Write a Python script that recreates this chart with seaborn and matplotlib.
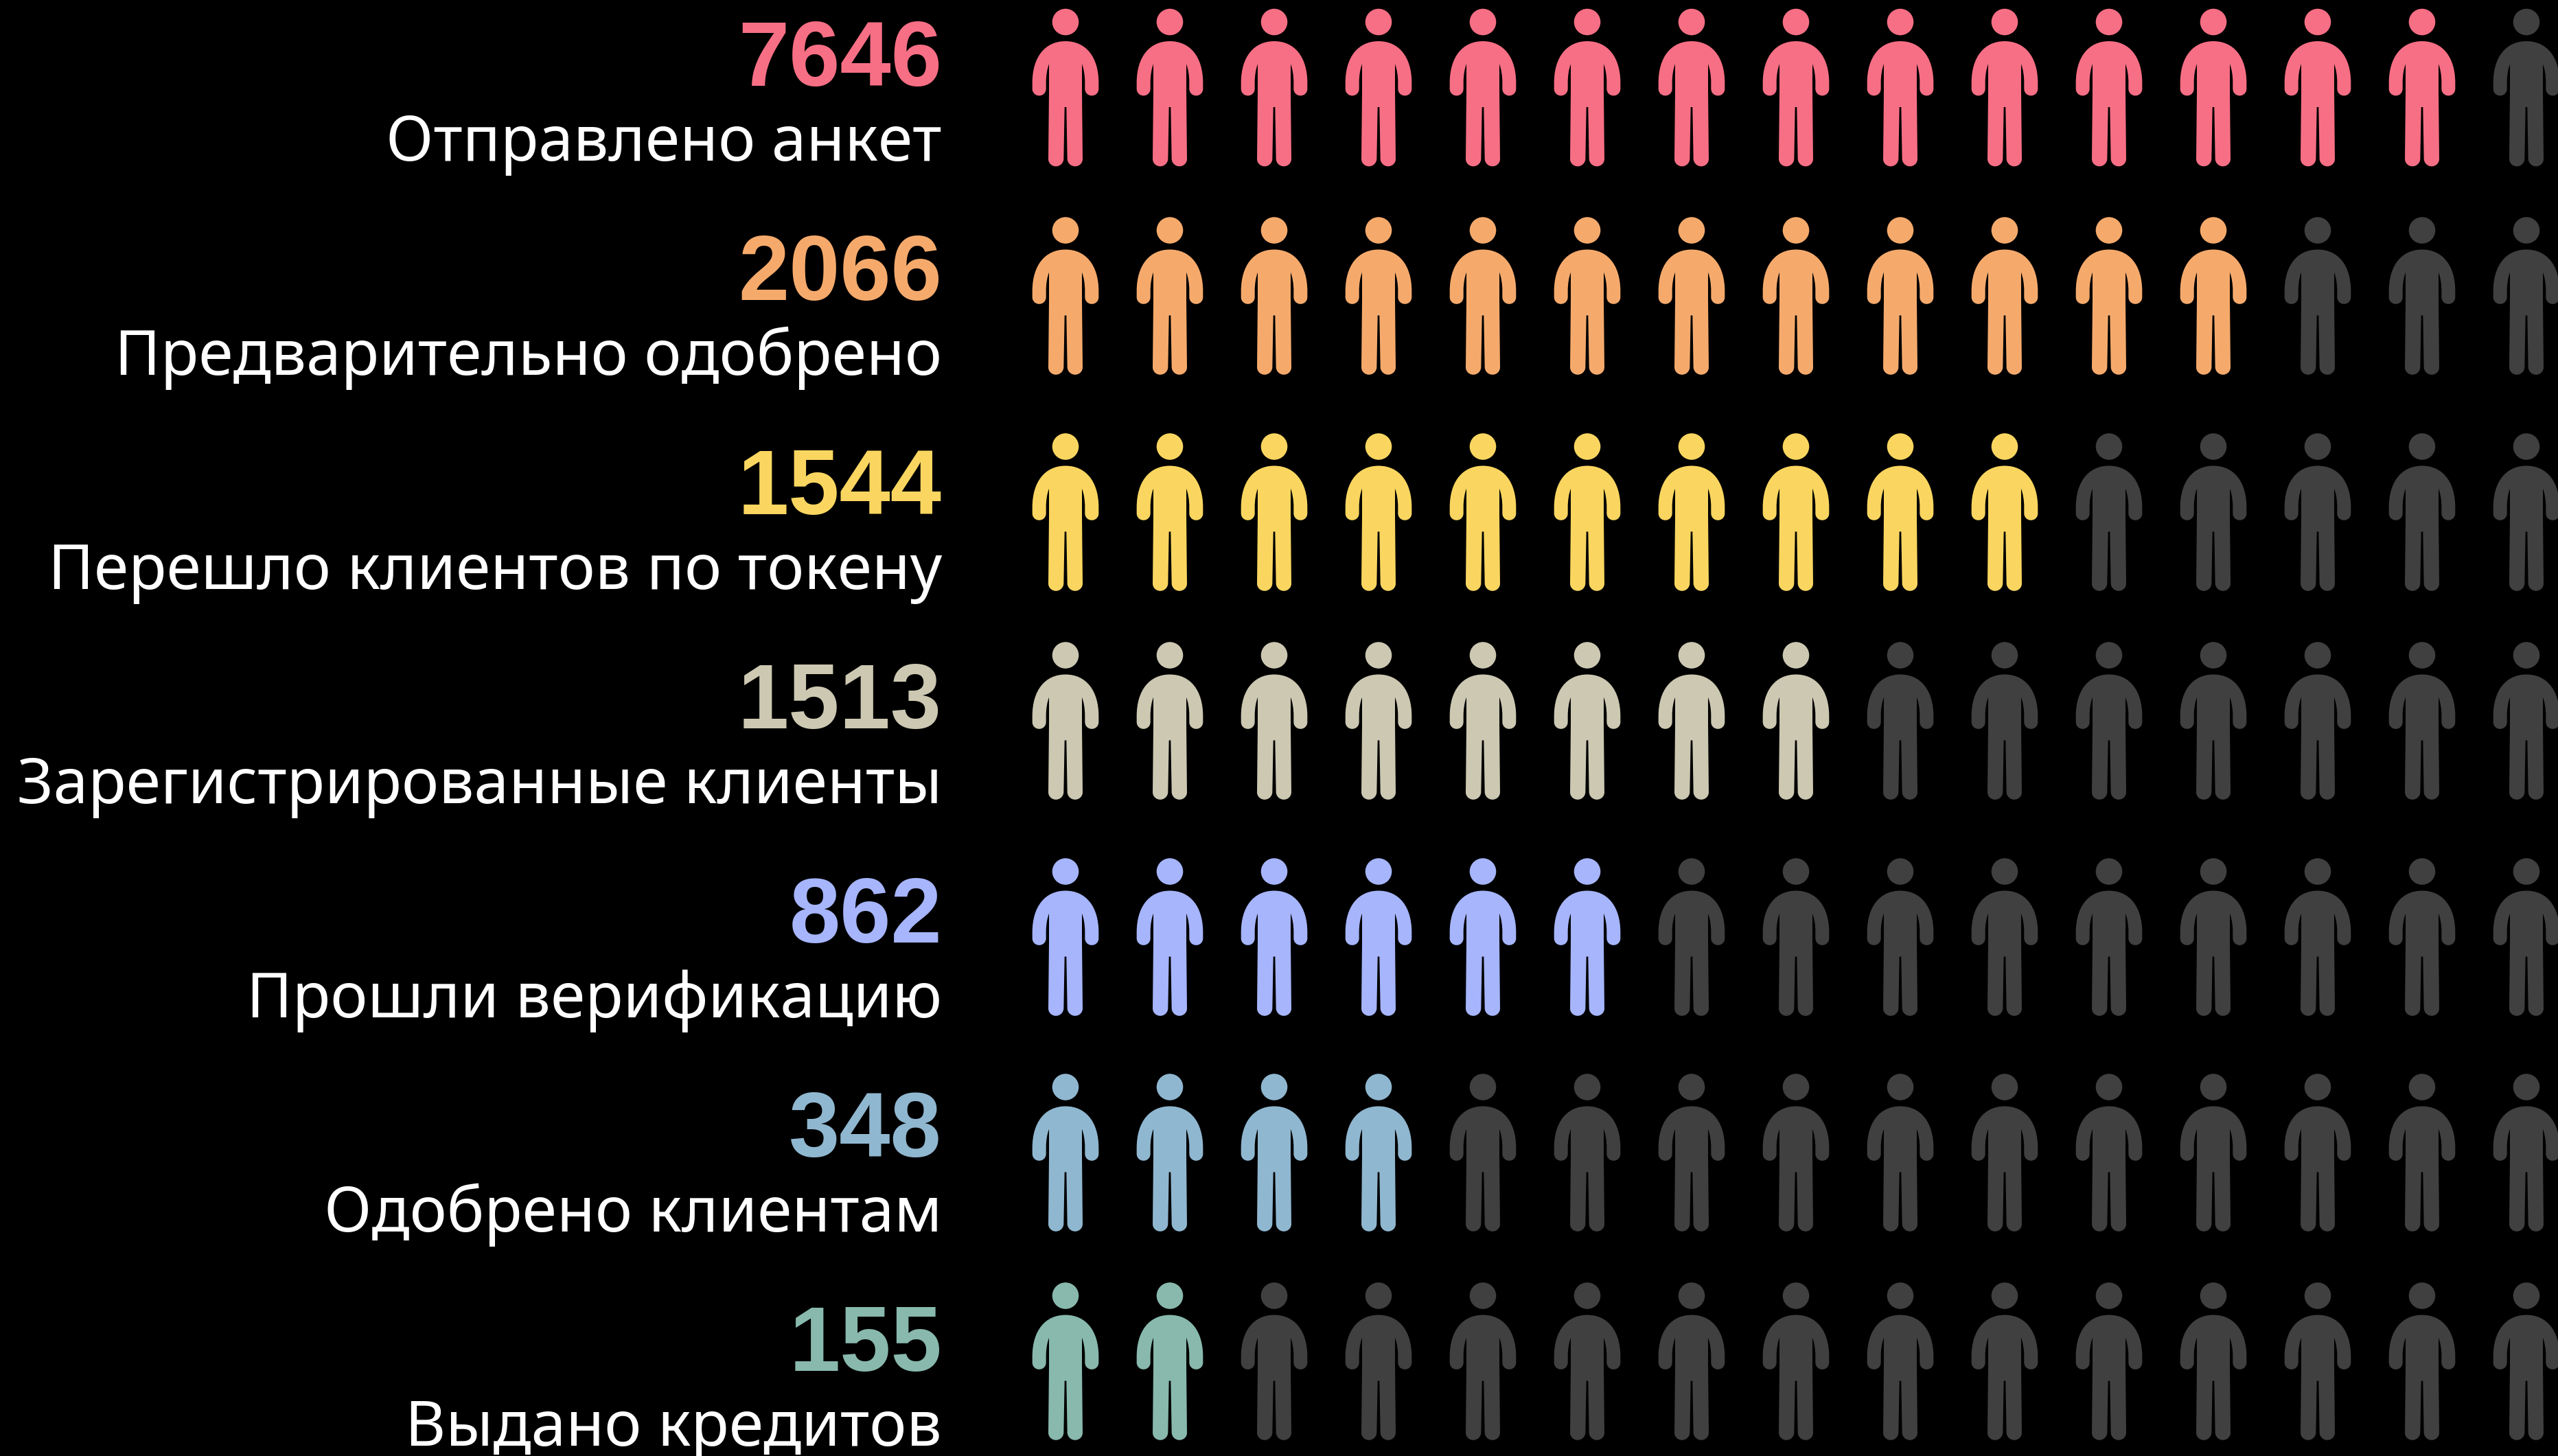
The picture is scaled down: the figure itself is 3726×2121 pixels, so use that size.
import numpy as np
import pandas as pd
import matplotlib
matplotlib.use("Agg")
import matplotlib.pyplot as plt
from matplotlib.path import Path
import seaborn as sns

# ---- data ----
stages = ["Отправлено анкет", "Предварительно одобрено", "Перешло клиентов по токену",
          "Зарегистрированные клиенты", "Прошли верификацию", "Одобрено клиентам", "Выдано кредитов"]
values = [7646, 2066, 1544, 1513, 862, 348, 155]
icons_on = [14, 12, 10, 8, 6, 4, 2]
colors = ["#F76F85", "#F5AA6C", "#FAD660", "#CCC8B2", "#A6B5FC", "#90B7D0", "#88B9AC"]

# ---- layout (pixels of the 3726x2121 canvas) ----
W, H = 3726, 2121
DPI = 100
N_COLS = 15
COL0_X, COL_STEP = 1552, 152
ROW0_Y, ROW_STEP = 127.5, 312
ICON_H = 229.6
ROW_SHIFT_PX = [0, -8.5, -5.5, -13.5, -10.5, -8.5, -16.5]
TEXT_RIGHT_PX = 1372
NUM_BASE_PX = 125
LAB_BASE_PX = 234
FONT_LABEL = "Noto Sans"
FONT_NUM = "Liberation Sans"
SIZE_LABEL = 65.6
SIZE_NUM = 96


def person_marker():
    half = [((0, 180),),
            ((-90, 180), (-145, 250), (-145, 362)),
            ((-145, 388),),
            ((-145, 405), (-132, 418), (-115, 418)),
            ((-98, 418), (-85, 405), (-85, 388)),
            ((-85, 360),),
            ((-85, 330), (-80, 300), (-72, 280)),
            ((-72, 400),),
            ((-75, 695),),
            ((-75, 713), (-60, 727), (-42, 727)),
            ((-24, 727), (-9, 713), (-8, 695)),
            ((-4, 468),),
            ((0, 468),)]
    verts, codes = [half[0][0]], [Path.MOVETO]
    for seg in half[1:]:
        verts += list(seg)
        codes += [Path.LINETO] if len(seg) == 1 else [Path.CURVE4] * 3
    for i in range(len(half) - 1, 0, -1):
        seg = half[i]
        prev_end = half[i - 1][-1]
        pts = list(seg[:-1][::-1]) + [prev_end]
        verts += [(-x, y) for x, y in pts]
        codes += [Path.LINETO] if len(seg) == 1 else [Path.CURVE4] * 3
    verts.append(verts[0])
    codes.append(Path.CLOSEPOLY)
    v = np.array(verts, float)
    v = np.column_stack([v[:, 0] / 3, -(v[:, 1] - 382.5) / 3])
    body = Path(v, codes)
    head = Path.circle((0, 95.5), 19.3)
    return Path.make_compound_path(head, body)


rows = []
for r, (stage, n) in enumerate(zip(stages, icons_on)):
    for c in range(N_COLS):
        rows.append({"col": c, "row": r + ROW_SHIFT_PX[r] / ROW_STEP,
                     "group": stage if c < n else "rest"})
df = pd.DataFrame(rows)
palette = dict(zip(stages, colors))
palette["rest"] = "#404040"

sns.set_theme(style="dark", rc={"figure.facecolor": "black", "axes.facecolor": "black"})
fig = plt.figure(figsize=(W / DPI, H / DPI), dpi=DPI, facecolor="black")
ax = fig.add_axes([0, 0, 1, 1])

s = (ICON_H * 72 / DPI) ** 2
sns.scatterplot(data=df, x="col", y="row", hue="group", palette=palette,
                marker=person_marker(), s=s, linewidth=0, edgecolor="none",
                legend=False, ax=ax, clip_on=True)

ax.set_xlim((0 - COL0_X) / COL_STEP, (W - COL0_X) / COL_STEP)
ax.set_ylim((H - ROW0_Y) / ROW_STEP, (0 - ROW0_Y) / ROW_STEP)
ax.set_axis_off()

tx = (TEXT_RIGHT_PX - COL0_X) / COL_STEP
for r, (stage, val, col) in enumerate(zip(stages, values, colors)):
    ax.text(tx, r + (NUM_BASE_PX - ROW0_Y) / ROW_STEP, str(val), color=col, ha="right",
            va="baseline", fontsize=SIZE_NUM, fontweight="bold", family=FONT_NUM)
    ax.text(tx, r + (LAB_BASE_PX - ROW0_Y) / ROW_STEP, stage, color="white", ha="right",
            va="baseline", fontsize=SIZE_LABEL, family=FONT_LABEL)

fig.savefig("out.png", dpi=DPI, facecolor="black")
